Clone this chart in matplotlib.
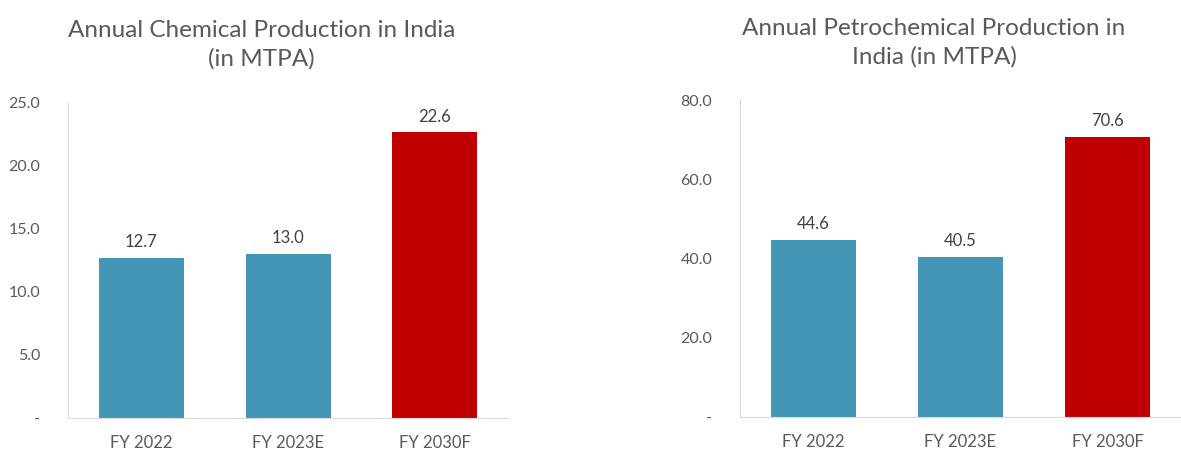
import matplotlib
matplotlib.use("Agg")
import matplotlib.pyplot as plt

plt.rcParams['font.family'] = ['Lato', 'DejaVu Sans']

years = ['FY 2022', 'FY 2023E', 'FY 2030F']
chem = [12.7, 13.0, 22.6]
petro = [44.6, 40.5, 70.6]
bar_colors = ['#4396B6', '#4396B6', '#C00000']

chem_ticks = [0, 5, 10, 15, 20, 25]
petro_ticks = [0, 20, 40, 60, 80]

fig = plt.figure(figsize=(11.81, 4.5), dpi=100)
ax1 = fig.add_axes([0.0576, 0.0711, 0.3726, 0.702])
ax2 = fig.add_axes([0.6266, 0.0733, 0.3734, 0.7044])

txt = '#595959'


def draw(ax, vals, ticks, title):
    x = range(len(vals))
    ax.bar(x, vals, width=0.58, color=bar_colors)
    for i, v in zip(x, vals):
        ax.text(i, v + ticks[-1] * 0.025, '{:.1f}'.format(v), ha='center', va='bottom',
                fontsize=12, color='#404040')
    ax.set_xlim(-0.5, 2.5)
    ax.set_ylim(0, ticks[-1])
    ax.set_yticks(ticks)
    ax.set_yticklabels(['-'] + ['{:.1f}'.format(t) for t in ticks[1:]])
    ax.set_xticks(list(x))
    ax.set_xticklabels(years)
    ax.tick_params(length=0, labelsize=12, labelcolor=txt)
    ax.tick_params(axis='y', labelsize=11.5, pad=20)
    ax.tick_params(axis='x', pad=12)
    for s in ['top', 'right']:
        ax.spines[s].set_visible(False)
    for s in ['left', 'bottom']:
        ax.spines[s].set_color('#D9D9D9')
    ax.set_title(title, fontsize=17.5, color=txt, pad=26, linespacing=1.4, x=0.44)


draw(ax1, chem, chem_ticks, 'Annual Chemical Production in India\n(in MTPA)')
draw(ax2, petro, petro_ticks, 'Annual Petrochemical Production in\nIndia (in MTPA)')

fig.savefig('out.png', dpi=100)
